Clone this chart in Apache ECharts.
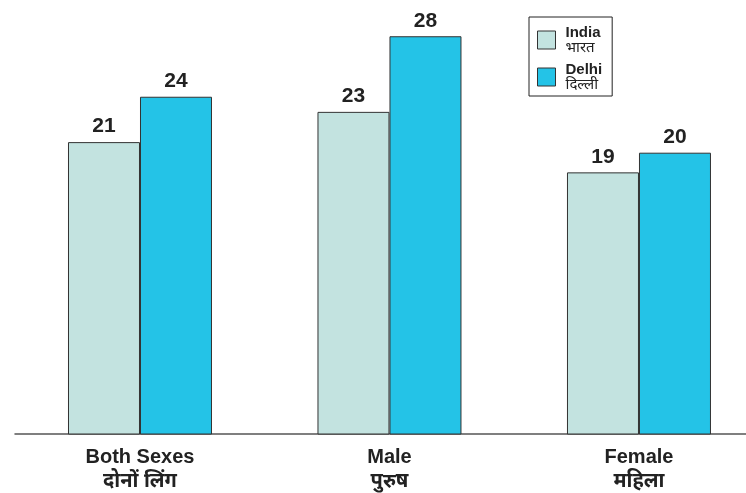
<!DOCTYPE html>
<html>
<head>
<meta charset="utf-8">
<script src="https://cdn.jsdelivr.net/npm/echarts@6/dist/echarts.min.js"></script>
<style>
  html, body { margin: 0; padding: 0; background: #fff; }
  #chart { width: 746px; height: 493px; }
</style>
</head>
<body>
<div id="chart"></div>
<script>
// categories (english / hindi)
var categories = ['Both Sexes', 'Male', 'Female']
var categoriesHi = ['दोनों लिंग', 'पुरुष', 'महिला']
var seriesNames = ['India', 'Delhi']
var seriesNamesHi = ['भारत', 'दिल्ली']
var indiaValues = [21, 23, 19]
var delhiValues = [24, 28, 20.3]

var FONT = 'Arial, "Liberation Sans", "Noto Sans", "DejaVu Sans", sans-serif'

var chart = echarts.init(document.getElementById('chart'))

// bars placed at category index on a value x axis (lets the last group sit near the edge)
function toPairs(vals) {
  return vals.map(function (v, i) { return [i, v] })
}

function barSeries(name, data, color) {
  return {
    name: name,
    type: 'bar',
    data: toPairs(data),
    barWidth: 72,
    barGap: '0%',
    itemStyle: {
      color: color,
      borderColor: '#333',
      borderWidth: 1
    },
    label: {
      show: true,
      position: 'top',
      distance: 5,
      fontFamily: FONT,
      fontWeight: 'bold',
      fontSize: 21,
      color: '#222',
      formatter: function (p) { return Math.round(p.value[1]) }
    }
  }
}

chart.setOption({
  animation: false,
  grid: {
    left: 15,
    right: 0,
    top: 6,
    bottom: 59
  },
  legend: {
    data: seriesNames,
    orient: 'vertical',
    left: 529,
    top: 17,
    padding: [8, 10, 4, 8],
    itemGap: 7,
    itemWidth: 18,
    itemHeight: 18,
    borderColor: '#222',
    borderWidth: 1,
    icon: 'rect',
    itemStyle: { borderColor: '#333', borderWidth: 1 },
    formatter: function (name) {
      return '{a|' + name + '}\n{b|' + seriesNamesHi[seriesNames.indexOf(name)] + '}'
    },
    textStyle: {
      padding: [0, 0, 0, 5],
      rich: {
        a: { fontFamily: FONT, fontWeight: 'bold', fontSize: 15, color: '#222', lineHeight: 15 },
        b: { fontFamily: FONT, fontSize: 15, color: '#222', lineHeight: 15 }
      }
    }
  },
  xAxis: {
    type: 'value',
    min: -0.501,
    max: 2.429,
    splitLine: { show: false },
    axisLine: { show: true, onZero: false, lineStyle: { color: '#555', width: 1.5 } },
    axisTick: { show: false },
    axisLabel: {
      customValues: [0, 1, 2],
      margin: 11,
      formatter: function (v) {
        var i = Math.round(v)
        return '{a|' + categories[i] + '}\n{b|' + categoriesHi[i] + '}'
      },
      rich: {
        a: { fontFamily: FONT, fontWeight: 'bold', fontSize: 20, color: '#222', lineHeight: 24 },
        b: { fontFamily: FONT, fontWeight: 'bold', fontSize: 20, color: '#222', lineHeight: 24 }
      }
    }
  },
  yAxis: {
    type: 'value',
    min: 1.7,
    max: 30,
    show: false,
    splitLine: { show: false }
  },
  series: [
    barSeries('India', indiaValues, '#c3e3e0'),
    barSeries('Delhi', delhiValues, '#24c3e7')
  ]
})
</script>
</body>
</html>
